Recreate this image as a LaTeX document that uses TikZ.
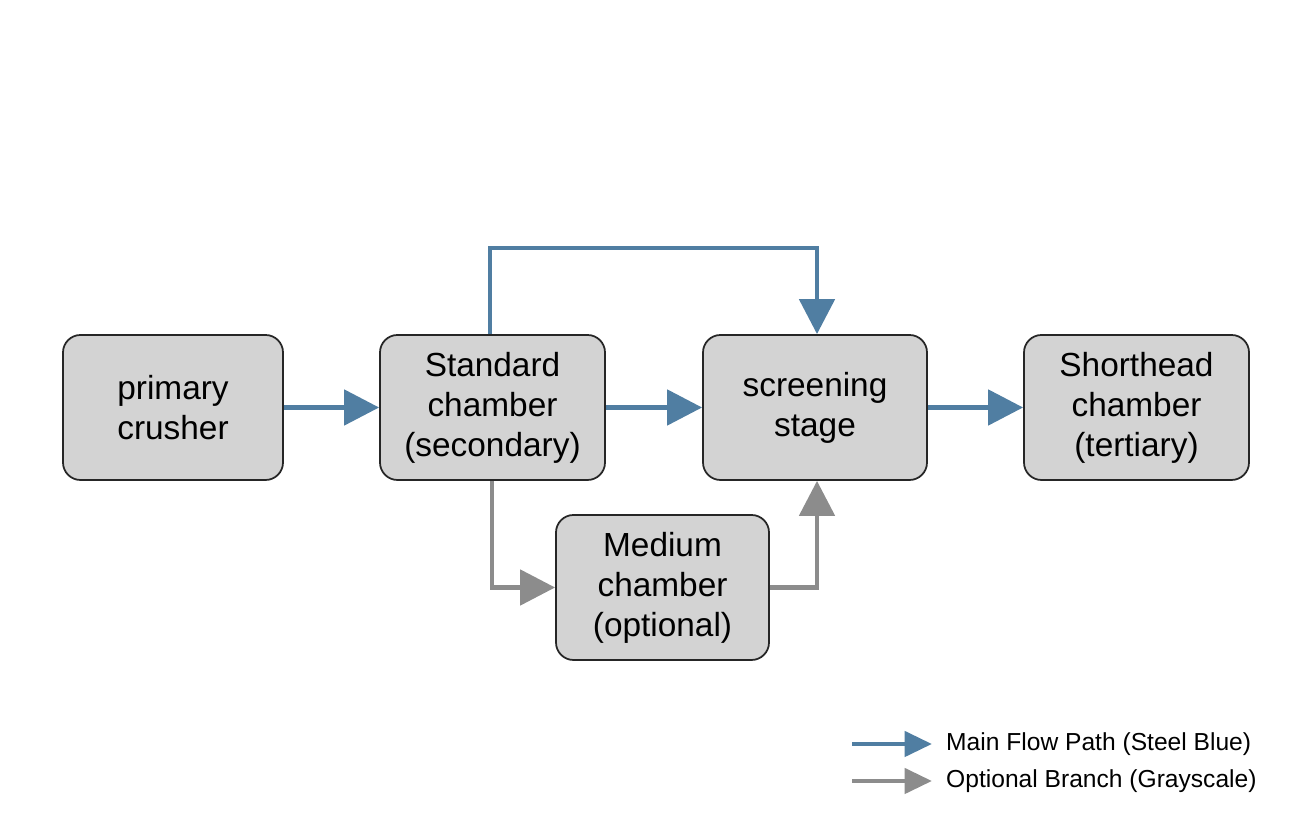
\documentclass[tikz,border=0pt]{standalone}
\usepackage{fontspec}
\setmainfont{Liberation Sans}
\usetikzlibrary{arrows.meta,positioning}
\definecolor{steelflow}{RGB}{80,126,162}
\definecolor{grayflow}{RGB}{140,140,140}
\definecolor{boxfill}{RGB}{211,211,211}
\begin{document}
\begin{tikzpicture}[
    stage/.style={rectangle, rounded corners=0.35cm, draw=black!85, line width=1pt, fill=boxfill, minimum width=4.45cm, minimum height=2.9cm, align=center, font=\fontsize{19}{22.7}\selectfont},
    mainflow/.style={-{Triangle[length=0.7cm,width=0.7cm]}, line width=2.8pt, draw=steelflow},
    optflow/.style={-{Triangle[length=0.7cm,width=0.7cm]}, line width=2.8pt, draw=grayflow},
    legendtext/.style={anchor=west, font=\fontsize{14}{16}\selectfont}
]
\useasboundingbox (0,0) rectangle (26.24,16.32);

% Stages
\node[stage, minimum width=4.4cm] (primary) at (3.46,8.17) {primary\\crusher};
\node[stage, minimum width=4.5cm] (standard) at (9.85,8.17) {Standard\\chamber\\(secondary)};
\node[stage, minimum width=4.48cm] (screening) at (16.3,8.17) {screening\\stage};
\node[stage, minimum width=4.5cm] (shorthead) at (22.73,8.17) {Shorthead\\chamber\\(tertiary)};
\node[stage, minimum width=4.26cm] (medium) at (13.25,4.57) {Medium\\chamber\\(optional)};

% Main flow
\draw[mainflow] (primary) -- (standard);
\draw[mainflow] (standard) -- (screening);
\draw[mainflow] (screening) -- (shorthead);
\draw[mainflow] (standard.north -| 9.8,0) |- (16.34,11.36) -- (screening.north -| 16.34,0);

% Optional branch
\draw[optflow] (standard.south -| 9.84,0) |- (medium.west);
\draw[optflow] (medium.east) -| (screening.south -| 16.34,0);

% Legend
\coordinate (mainA) at (17.04,1.44);
\coordinate (mainB) at (18.64,1.44);
\coordinate (optA) at (17.04,0.7);
\coordinate (optB) at (18.64,0.7);
\draw[mainflow, -{Triangle[length=0.55cm,width=0.5cm]}] (mainA) -- (mainB);
\draw[optflow, -{Triangle[length=0.55cm,width=0.5cm]}] (optA) -- (optB);
\node[legendtext] (mainlabel) at (18.8,1.44) {Main Flow Path (Steel Blue)};
\node[legendtext] (optlabel) at (18.8,0.7) {Optional Branch (Grayscale)};
\end{tikzpicture}
\end{document}
